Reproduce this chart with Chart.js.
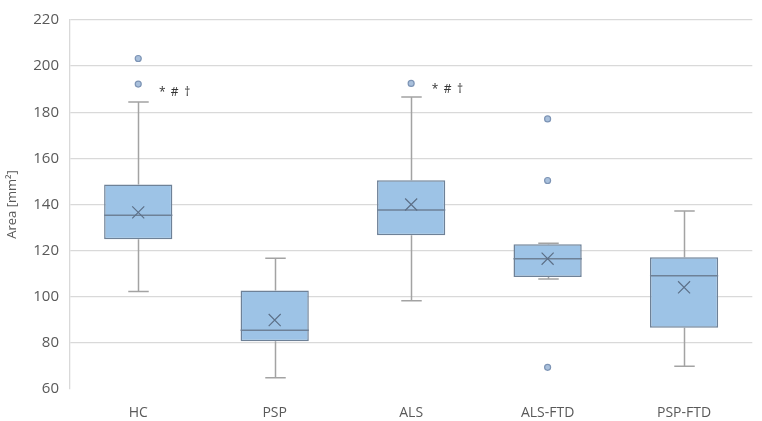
<!DOCTYPE html>
<html>
<head>
<meta charset="utf-8">
<script src="https://cdn.jsdelivr.net/npm/chart.js@4.4.1/dist/chart.umd.min.js"></script>
<style>
  html, body { margin: 0; padding: 0; background: #ffffff; }
  #wrap { width: 762px; height: 421px; position: relative; }
</style>
</head>
<body>
<div id="wrap"><canvas id="c" width="762" height="421"></canvas></div>
<script>
// ---- Data ----
const categories   = ['HC', 'PSP', 'ALS', 'ALS-FTD', 'PSP-FTD'];
const whiskerLow   = [102.3, 64.9, 98.3, 107.7, 69.9];
const q1Values     = [124.9, 80.7, 126.7, 108.6, 86.6];
const medianValues = [135.3, 85.5, 137.6, 116.5, 109.1];
const q3Values     = [148.7, 102.7, 150.5, 122.8, 117.1];
const whiskerHigh  = [184.4, 116.7, 186.6, 123.2, 137.2];
const meanValues   = [136.6, 89.9, 140.0, 116.5, 104.1];
const outlierCats   = ['HC', 'HC', 'ALS', 'ALS-FTD', 'ALS-FTD', 'ALS-FTD'];
const outlierValues = [203.3, 192.2, 192.5, 177.1, 150.4, 69.4];
const markCats   = ['HC', 'ALS'];
const markValues = [188.4, 189.7];
const markText   = ['* # †', '* # †'];
const yTicks = [60, 80, 100, 120, 140, 160, 180, 200, 220];

// ---- Styles ----
const BOX_FILL = '#9dc3e6';
const BOX_EDGE = '#6e8197';
const WHISKER = '#a3a3a3';
const GRID = '#d9d9d9';
const TEXT = '#595959';
const FONT = "'Open Sans', 'Liberation Sans', sans-serif";

const boxPlotPlugin = {
  id: 'boxParts',
  beforeDatasetsDraw(chart) {
    const x = chart.scales.x, y = chart.scales.y, ctx = chart.ctx;
    const meta = chart.getDatasetMeta(0);
    ctx.save();
    ctx.strokeStyle = WHISKER;
    ctx.lineWidth = 1.5;
    categories.forEach((c, i) => {
      const cx = Math.round(x.getPixelForValue(i)) + 0.5;
      const bw = meta.data[i].width;
      const cap = bw * 0.3;
      const yl = y.getPixelForValue(whiskerLow[i]);
      const yh = y.getPixelForValue(whiskerHigh[i]);
      const y1 = y.getPixelForValue(q1Values[i]);
      const y3 = y.getPixelForValue(q3Values[i]);
      ctx.beginPath();
      ctx.moveTo(cx, y1); ctx.lineTo(cx, yl);
      ctx.moveTo(cx - cap / 2, yl); ctx.lineTo(cx + cap / 2, yl);
      ctx.moveTo(cx, y3); ctx.lineTo(cx, yh);
      ctx.moveTo(cx - cap / 2, yh); ctx.lineTo(cx + cap / 2, yh);
      ctx.stroke();
    });
    ctx.restore();
  },
  afterDatasetDraw(chart, args) {
    if (args.index !== 0) return;
    const x = chart.scales.x, y = chart.scales.y, ctx = chart.ctx;
    const meta = chart.getDatasetMeta(0);
    ctx.save();
    ctx.strokeStyle = BOX_EDGE;
    ctx.lineWidth = 1.5;
    categories.forEach((c, i) => {
      const cx = x.getPixelForValue(i);
      const bw = meta.data[i].width;
      const ym = y.getPixelForValue(medianValues[i]);
      ctx.beginPath();
      ctx.moveTo(cx - bw / 2, ym); ctx.lineTo(cx + bw / 2, ym);
      ctx.stroke();
    });
    ctx.restore();
  },
  afterDraw(chart) {
    const x = chart.scales.x, y = chart.scales.y, ctx = chart.ctx;
    ctx.save();
    ctx.fillStyle = '#333333';
    ctx.font = "12px " + FONT;
    ctx.textAlign = 'center';
    ctx.textBaseline = 'middle';
    markCats.forEach((c, i) => {
      const cx = x.getPixelForValue(categories.indexOf(c)) + 24;
      const yy = y.getPixelForValue(markValues[i]);
      markText[i].split(' ').forEach((s, k) => {
        ctx.fillText(s, cx + k * 12.5, yy);
      });
    });
    ctx.restore();
  }
};

new Chart(document.getElementById('c'), {
  data: {
    labels: categories,
    datasets: [
      {
        type: 'bar',
        order: 3,
        data: categories.map((c, i) => [q1Values[i], q3Values[i]]),
        backgroundColor: BOX_FILL,
        borderColor: BOX_EDGE,
        borderWidth: 1.5,
        borderSkipped: false,
        categoryPercentage: 1.0,
        barPercentage: 0.5
      },
      {
        type: 'line',
        order: 2,
        showLine: false,
        data: outlierCats.map((c, i) => ({ x: c, y: outlierValues[i] })),
        pointStyle: 'circle',
        pointRadius: 3,
        pointBackgroundColor: '#a9c0dc',
        pointBorderColor: '#7d94b5',
        pointBorderWidth: 1.2
      },
      {
        type: 'line',
        order: 1,
        showLine: false,
        data: meanValues,
        pointStyle: 'crossRot',
        pointRadius: 8.5,
        pointBorderColor: '#5d7088',
        pointBorderWidth: 1.2
      }
    ]
  },
  options: {
    responsive: false,
    animation: false,
    events: [],
    layout: { padding: { top: 7, right: 4, left: 0, bottom: 0 } },
    plugins: { legend: { display: false }, tooltip: { enabled: false } },
    scales: {
      x: {
        type: 'category',
        offset: true,
        grid: { display: false, drawTicks: false },
        border: { display: false },
        ticks: { color: TEXT, font: { family: FONT, size: 14 }, padding: 16 },
        afterFit(s) { s.height = 32; }
      },
      y: {
        min: 60,
        max: 220,
        afterBuildTicks(s) { s.ticks = yTicks.map(v => ({ value: v })); },
        grid: {
          drawTicks: false,
          color: ctx => (ctx.tick && ctx.tick.value === 60) ? 'rgba(0,0,0,0)' : GRID,
          lineWidth: 1.3
        },
        border: { display: true, color: GRID, width: 1.3 },
        ticks: { color: TEXT, font: { family: FONT, size: 15 }, padding: 11 },
        title: {
          display: true,
          text: 'Area [mm²]',
          color: TEXT,
          font: { family: FONT, size: 13 },
          padding: { top: 4, bottom: 0 }
        },
        afterFit(s) { s.width = 70; }
      }
    }
  },
  plugins: [boxPlotPlugin]
});
</script>
</body>
</html>
